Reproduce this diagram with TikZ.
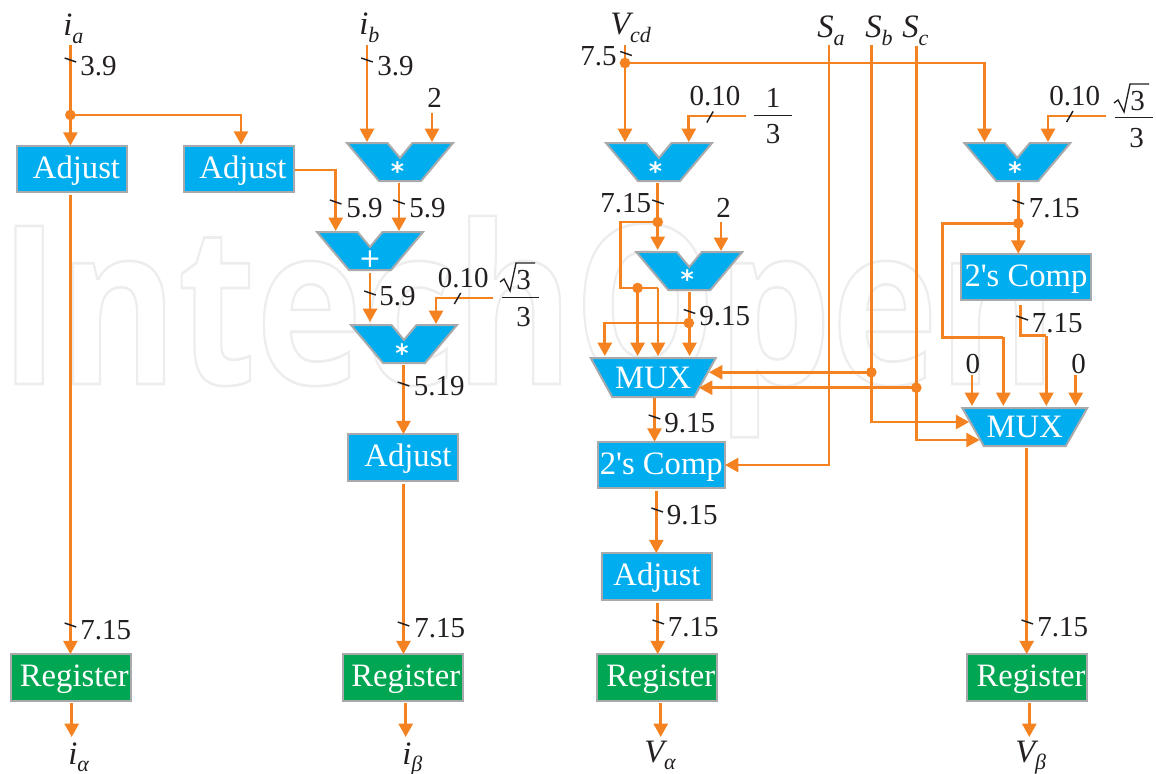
\documentclass[tikz,border=0pt]{standalone}
\usepackage{fontspec}
\usetikzlibrary{arrows.meta,calc}
\setmainfont{Liberation Serif}
\newfontfamily\plainserif{Liberation Serif}
\newfontfamily\wmfont{Open Sans}
\newfontfamily\starfont{DejaVu Sans}
\definecolor{ink}{HTML}{231F20}
\definecolor{wireor}{HTML}{F58220}
\definecolor{bluefill}{HTML}{00AEEF}
\definecolor{greenfill}{HTML}{00A651}
\definecolor{edgegrey}{HTML}{A7A9AC}
\newcommand{\numfont}{\fontsize{21.75pt}{24pt}\selectfont}
\newcommand{\boxfont}{\fontsize{24.5pt}{28pt}\selectfont}
\newcommand{\subs}[1]{\raisebox{-0.22em}{\fontsize{16.5pt}{18pt}\selectfont\itshape #1}}
\tikzset{
  x=0.75pt,y=-0.75pt,
  wire/.style={draw=wireor,line width=2pt},
  arr/.style={wire,-{Triangle[width=10.5pt,length=10pt]}},
  junct/.style={circle,fill=wireor,draw=none,minimum size=8pt,inner sep=0pt},
  tickm/.style={draw=ink,line width=1.1pt},
  lab/.style={anchor=base west,inner sep=0pt,text=ink,font=\numfont},
  var/.style={anchor=base west,inner sep=0pt,text=ink,font=\boxfont\itshape},
  fracrule/.style={draw=ink,line width=0.75pt},
  procbox/.style={draw=edgegrey,line width=1.5pt,fill=bluefill,text=white,inner sep=0pt,outer sep=0pt,font=\boxfont,minimum height=35pt,text height=18pt,text depth=4.5pt},
  regbox/.style={procbox,fill=greenfill,minimum width=90pt},
  gate/.style={draw=edgegrey,line width=1.5pt,fill=bluefill,line join=miter},
  gatetext/.style={inner sep=0pt,outer sep=0pt,text=white},
  startext/.style={gatetext,font=\starfont\bfseries\fontsize{19pt}{20pt}\selectfont},
}
\newcommand{\vgate}[3]{%
  \draw[gate] ({#2-53},#3) -- ({#2-12.5},#3) -- (#2,{#3+15}) -- ({#2+12.5},#3) -- ({#2+53},#3)
     -- ({#2+21},{#3+38}) -- ({#2-21},{#3+38}) -- cycle;
  \coordinate (#1) at (#2,{#3+19});
  \coordinate (#1t) at (#2,{#3-1});
  \coordinate (#1b) at (#2,{#3+40});
}
\newcommand{\muxgate}[4]{%
  \draw[gate] ({#2-62.5},#3) -- ({#2+62.5},#3) -- ({#2+41},{#3+#4}) -- ({#2-41},{#3+#4}) -- cycle;
  \node[gatetext,font=\boxfont,minimum width=125*0.75pt,minimum height=#4*0.75pt] (#1) at (#2,{#3+#4/2}) {MUX};
  \coordinate (#1t) at (#2,{#3-2});
  \coordinate (#1b) at (#2,{#3+#4+2});
}
\newcommand{\rootthree}[3]{%
  \draw[fracrule,line width=1pt] (#2,{#3+20}) -- ({#2+4},{#3+17}) -- ({#2+10},{#3+29}) -- ({#2+16},{#3+1}) -- ({#2+35},{#3+1});
  \node[lab] (#1) at ({#2+16},{#3+27}) {3};
}
\begin{document}
\begin{tikzpicture}
\useasboundingbox (0,0) rectangle (1156,774);
% watermark
\node[anchor=base west,inner sep=0pt] (wm) at (-1,384)
  {\scalebox{0.815}[1]{\wmfont\bfseries\fontsize{166pt}{170pt}\selectfont\special{pdf:code q 1 Tr 0.93 G 2 w}IntechOpen\special{pdf:code Q}}};

% boxes
\node[procbox,minimum width=82.5pt] (adj1) at (72,169) {\kern6.75pt Adjust};
\node[procbox,minimum width=82.5pt] (adj2) at (239,169) {\kern6pt Adjust};
\node[procbox,minimum width=82.5pt] (adj3) at (403,457.5) {\kern7.5pt Adjust};
\node[procbox,minimum width=83pt] (adj4) at (657,576.5) {Adjust};
\node[procbox,minimum width=95.5pt,font=\plainserif\boxfont] (comp1) at (661.3,465) {2's Comp};
\node[procbox,minimum width=97.5pt,font=\plainserif\boxfont] (comp2) at (1026,277) {2's Comp};
\node[regbox] (reg1) at (71,677.5) {\kern5pt Register};
\node[regbox] (reg2) at (402.5,677.5) {\kern5pt Register};
\node[regbox] (reg3) at (657.2,677.5) {\kern5.5pt Register};
\node[regbox] (reg4) at (1026.7,677.5) {\kern6.5pt Register};

% gates
\vgate{ma}{400}{143}
\vgate{mb}{370}{232}
\vgate{mc}{404}{325}
\vgate{md}{659}{143}
\vgate{me}{689.3}{252}
\vgate{mf}{1017.3}{143}
\node[startext] (sa) at (397.5,171.5) {*};
\node[gatetext,font=\starfont\fontsize{20pt}{20pt}\selectfont] (sb) at (370,259) {+};
\node[startext] (sc) at (402,353.5) {*};
\node[startext] (sd) at (655.6,171.5) {*};
\node[startext] (se) at (687.3,279.5) {*};
\node[startext] (sf) at (1015,171.5) {*};
\muxgate{mxa}{653.2}{358}{39}
\muxgate{mxb}{1024.8}{408}{38}

% signal names
\node[var] (tia) at (63,36) {i\subs{a}};
\node[var] (tib) at (359,35) {i\subs{b}};
\node[var] (tvcd) at (610,35) {V\subs{cd}};
\node[var] (tsa) at (817,38) {S\subs{a}};
\node[var] (tsb) at (865,38) {S\subs{b}};
\node[var] (tsc) at (902,38) {S\subs{c}};
\node[var] (tialpha) at (68,764) {i\subs{α}};
\node[var] (tibeta) at (402,764) {i\subs{β}};
\node[var] (tvalpha) at (644,762) {V\subs{α}};
\node[var] (tvbeta) at (1015,762) {V\subs{β}};

% numeric labels
\node[lab] (l1) at (80,75) {3.9};
\node[lab] (l2) at (377,75) {3.9};
\node[lab] (c2a) at (427,108) {2};
\node[lab] (l3) at (346,217) {5.9};
\node[lab] (l4) at (409,217) {5.9};
\node[lab] (l5) at (379,305) {5.9};
\node[lab] (k1) at (437.5,287) {0.10};
\node[lab] (l6) at (413.5,395) {5.19};
\node[lab] (l7) at (80,639) {7.15};
\node[lab] (l8) at (414,637) {7.15};
\node[lab] (l9) at (580,65) {7.5};
\node[lab] (k2) at (689.3,105) {0.10};
\node[lab] (l10) at (600,212) {7.15};
\node[lab] (c2b) at (716,217) {2};
\node[lab] (l11) at (699,325) {9.15};
\node[lab] (l12) at (664,432) {9.15};
\node[lab] (l13) at (666.7,524) {9.15};
\node[lab] (l14) at (667.7,636) {7.15};
\node[lab] (k3) at (1049,105) {0.10};
\node[lab] (l15) at (1028.5,217) {7.15};
\node[lab] (l16) at (1031.7,332) {7.15};
\node[lab] (c0a) at (965.3,373) {0};
\node[lab] (c0b) at (1071,373) {0};
\node[lab] (l17) at (1037,636) {7.15};

% fractions
\draw[fracrule] (502,297) -- (538.6,297);
\rootthree{fa}{500}{262}
\node[lab] (fb) at (516,326) {3};
\draw[fracrule] (753.9,115) -- (791.7,115);
\node[lab] (fc) at (765.5,108) {1};
\node[lab] (fd) at (765.5,143) {3};
\draw[fracrule] (1115,117.7) -- (1152.7,117.7);
\rootthree{fe}{1114}{83}
\node[lab] (ff) at (1129,147) {3};

% free ends and junctions
\coordinate (ia) at (70.4,45);
\coordinate (ja) at (70.4,115);
\coordinate (ib) at (367,45);
\coordinate (two1) at (432,113);
\coordinate (k1e) at (493,298);
\coordinate (k1p) at (436,298);
\coordinate (vc) at (625,45);
\coordinate (jv) at (625,63);
\coordinate (k2e) at (746.4,116);
\coordinate (k2p) at (688.8,116);
\coordinate (k3e) at (1106,116);
\coordinate (k3p) at (1048,116);
\coordinate (two2) at (721,222);
\coordinate (sae) at (829,45);
\coordinate (sbe) at (871.3,45);
\coordinate (sce) at (916.3,46);
\coordinate (sac) at (829,465);
\coordinate (sbt) at (969.2,422);
\coordinate (sct) at (979.6,440);
\coordinate (jb) at (871.3,372.3);
\coordinate (jc) at (916.3,387.7);
\coordinate (jbt) at (709,372.3);
\coordinate (jct) at (699,387.7);
\coordinate (jd) at (657.7,222);
\coordinate (je) at (637.6,288);
\coordinate (jf) at (688.8,323);
\coordinate (jg) at (1018.3,223.3);
\coordinate (cz1) at (972,375);
\coordinate (cz2) at (1075.7,375);
\coordinate (a2r) at (295,170);
\coordinate (a2p) at (335.7,231);
\coordinate (mab2) at (399,183);
\coordinate (cv) at (984.5,142);
\coordinate (la1) at (620.4,222);
\coordinate (la2) at (620.4,288);
\coordinate (la3) at (658,288);
\coordinate (la4) at (658,356);
\coordinate (lf) at (604.8,356);
\coordinate (lb1) at (942.7,223.3);
\coordinate (lb2) at (942.7,337.3);
\coordinate (lb3) at (1003.3,337.3);
\coordinate (lb4) at (1003.3,406);
\coordinate (lc0) at (1020.7,305);
\coordinate (lc1) at (1020.7,335.7);
\coordinate (lc2) at (1046.3,335.7);
\coordinate (lc3) at (1046.3,406);
\coordinate (o1a) at (70.4,195);
\coordinate (o1b) at (71.7,703);
\coordinate (o1c) at (71.7,737);
\coordinate (o2a) at (370,272.6);
\coordinate (o2b) at (370,322);
\coordinate (o3a) at (403.5,365);
\coordinate (o3b) at (403.5,484);
\coordinate (o4a) at (405.7,703);
\coordinate (o4b) at (405.7,737);
\coordinate (o5a) at (657.7,183);
\coordinate (o5b) at (657.7,250);
\coordinate (o6a) at (689.5,292);
\coordinate (o6b) at (689.5,356);
\coordinate (o7a) at (654.5,398);
\coordinate (o8a) at (656.3,491);
\coordinate (o9a) at (657.7,602.7);
\coordinate (o10a) at (660.7,703);
\coordinate (o10b) at (660.7,737);
\coordinate (o11a) at (1018.3,183);
\coordinate (o12a) at (1026.7,448);
\coordinate (o13a) at (1029.3,703);
\coordinate (o13b) at (1029.3,737);

% left column
\draw[arr] (ia) -- (ia |- adj1.north);
\draw[arr] (ja) -| ($(adj2.north)+(2,-1)$);
\draw[arr] (o1a) -- (o1a |- reg1.north);
\draw[arr] (o1b) -- (o1c);
% middle column
\draw[arr] (ib) -- (ib |- mat);
\draw[arr] (two1) -- (two1 |- mat);
\draw[arr] (a2r) -| (a2p);
\draw[arr] (mab2) -- (mab2 |- mbt);
\draw[arr] (o2a) -- (o2b);
\draw[arr] (k1e) -- (k1p) -- (k1p |- mct);
\draw[arr] (o3a) -- (o3a |- adj3.north);
\draw[arr] (o3b) -- (o3b |- reg2.north);
\draw[arr] (o4a) -- (o4b);
% third column
\draw[arr] (vc) -- (vc |- mdt);
\draw[arr] (jv) -| (cv);
\draw[arr] (k2e) -- (k2p) -- (k2p |- mdt);
\draw[arr] (o5a) -- (o5b);
\draw[arr] (two2) -- (two2 |- met);
\draw[wire] (jd) -- (la1) -- (la2) -- (la3);
\draw[arr] (la3) -- (la4);
\draw[arr] (je) -- (je |- la4);
\draw[arr] (o6a) -- (o6b);
\draw[arr] (jf) -| (lf);
\draw[arr] (o7a) -- (o7a |- comp1.north);
\draw[arr] (o8a) -- (o8a |- adj4.north);
\draw[arr] (o9a) -- (o9a |- reg3.north);
\draw[arr] (o10a) -- (o10b);
% select lines
\draw[arr] (sae) -- (sac) -- (comp1.east |- sac);
\draw[arr] (sbe) |- (sbt);
\draw[arr] (sce) |- (sct);
\draw[arr] (jb) -- (jbt);
\draw[arr] (jc) -- (jct);
% right column
\draw[arr] (k3e) -- (k3p) -- (k3p |- mft);
\draw[arr] (o11a) -- (o11a |- comp2.north);
\draw[wire] (jg) -- (lb1) -- (lb2) -- (lb3);
\draw[arr] (lb3) -- (lb4);
\draw[wire] (lc0) -- (lc1) -- (lc2);
\draw[arr] (lc2) -- (lc3);
\draw[arr] (cz1) -- (cz1 |- mxbt);
\draw[arr] (cz2) -- (cz2 |- mxbt);
\draw[arr] (o12a) -- (o12a |- reg4.north);
\draw[arr] (o13a) -- (o13b);

% junction dots
\foreach \j in {ja,jv,jb,jc,jd,je,jf,jg} \node[junct] at (\j) {};

% bit-width ticks
\foreach \tx/\ty in {70.4/60,367/60,626/53.5,335.7/202,399/202,370/293,403.5/384,70.4/625,403.5/624,658/202,689.5/311.5,654.5/417,657.2/510,658.3/622,1018.3/202,1022.2/318,1027.3/622}
  \draw[tickm] ({\tx-5.8},{\ty-2}) -- ({\tx+5.8},{\ty+2});
\foreach \tx/\ty in {457.5/298.5,710/117,1069.8/116.5}
  \draw[tickm] ({\tx-3.2},{\ty+5.5}) -- ({\tx+3.2},{\ty-5.5});
\end{tikzpicture}
\end{document}
